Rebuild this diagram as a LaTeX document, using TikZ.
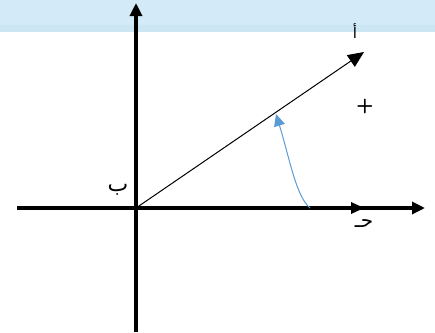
\documentclass[tikz,border=0pt]{standalone}
\usepackage{fontspec}
\newfontfamily\arabicfont[Script=Arabic]{DejaVu Sans}
\TeXXeTstate=1
\usetikzlibrary{arrows.meta}
\definecolor{bandblue}{HTML}{D3EBF8}
\definecolor{bandblue2}{HTML}{CCE6F4}
\definecolor{arcblue}{HTML}{5B9BD5}
\tikzset{
  axis/.style={line width=3.2pt,-{Triangle[length=13pt,width=12pt]}},
  raystyle/.style={line width=1pt,-{Triangle[length=16pt,width=14pt]}},
  lbl/.style={font=\arabicfont\fontsize{15}{15}\selectfont,inner sep=0pt},
}
\begin{document}
\begin{tikzpicture}[x=1pt,y=-1pt]
\useasboundingbox (0,0) rectangle (435,332);
\fill[bandblue] (0,0) rectangle (435,25);
\fill[bandblue2] (0,25) rectangle (435,32);
\coordinate (O) at (136,208);
\coordinate (ytop) at (136,3);
\coordinate (ybot) at (136,332);
\coordinate (xleft) at (17,208);
\coordinate (xright) at (425,208);
\coordinate (xmid) at (364,208);
\coordinate (A) at (364,52);
\coordinate (arcS) at (310,208);
\coordinate (arcE) at (276,114);
\draw[axis] (ybot) -- (ytop);
\draw[line width=3.2pt] (xleft) -- (xmid);
\draw[axis] (xmid) -- (xright);
\fill (xmid) -- ++(-13,-6) -- ++(0,12) -- cycle;
\draw[raystyle] (O) -- (A);
\draw[arcblue,line width=1pt,-{Triangle[length=12pt,width=11pt]}] (arcS) .. controls (296,196) and (290,160) .. (arcE);
\node[lbl] (la) at (355,31) {\beginR أ\endR};
\node[lbl,font=\arabicfont\fontsize{22}{22}\selectfont] (lb) at (118,190) {\beginR ب\endR};
\node[lbl,font=\arabicfont\fontsize{20}{20}\selectfont] (lc) at (364,224) {\beginR حـ\endR};
\node[font=\sffamily\bfseries\fontsize{20}{20}\selectfont,inner sep=0pt] (plus) at (365,106) {+};
\end{tikzpicture}
\end{document}
